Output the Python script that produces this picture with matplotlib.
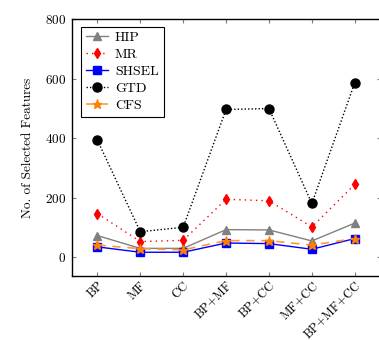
import matplotlib
matplotlib.use("Agg")
import matplotlib.pyplot as plt

plt.rcParams['font.family'] = ['cmr10', 'DejaVu Serif']
plt.rcParams['axes.formatter.use_mathtext'] = True

categories = ["BP", "MF", "CC", "BP+MF", "BP+CC", "MF+CC", "BP+MF+CC"]
hip = [72, 29, 29, 92, 91, 54, 114]
mr = [146, 52, 56, 194, 189, 101, 244]
shsel = [34, 16, 16, 47, 45, 26, 62]
gtd = [393, 85, 100, 496, 499, 180, 586]
cfs = [40, 28, 24, 55, 55, 40, 62]
y_ticks = [0, 200, 400, 600, 800]

fig = plt.figure(figsize=(3.79, 3.40), dpi=100)
ax = fig.add_axes([0.189, 0.189, 0.815, 0.755])

x = list(range(len(categories)))
ax.plot(x, hip, color='gray', linestyle='-', marker='^', markersize=5.5, linewidth=1.0, label='HIP')
ax.plot(x, mr, color='red', linestyle=(0, (1, 3)), marker='d', markersize=5.5, linewidth=1.0, label='MR')
ax.plot(x, shsel, color='blue', linestyle='-', marker='s', markersize=5.5, linewidth=1.0, label='SHSEL')
ax.plot(x, gtd, color='black', linestyle=(0, (1, 1.5)), marker='o', markersize=6.5, linewidth=1.0, label='GTD')
ax.plot(x, cfs, color='#ff9933', linestyle=(0, (5, 4)), marker='*', markersize=6.5,
        markerfacecolor='#ff8000', markeredgecolor='#ff8000', linewidth=1.2, label='CFS')

ax.set_xlim(-0.6, 6.6)
ax.set_ylim(-63, 800)
ax.set_xticks(x)
ax.set_xticklabels(categories, rotation=45, ha='right', va='top', rotation_mode='anchor', fontsize=9)
ax.set_yticks(y_ticks)
ax.tick_params(axis='y', labelsize=9.5)
ax.tick_params(axis='both', direction='in', length=3, color='gray',
               top=True, right=True, pad=4)
ax.tick_params(axis='x', pad=2.5)
for s in ax.spines.values():
    s.set_linewidth(1.0)

ax.set_ylabel("No. of Selected Features", fontsize=9.5, labelpad=8)

leg = ax.legend(loc='upper left', bbox_to_anchor=(0.03, 0.97), fontsize=10, fancybox=False,
                framealpha=1, edgecolor='black', handlelength=1.6, borderpad=0.35,
                labelspacing=0.3, handletextpad=0.5, borderaxespad=0)
leg.get_frame().set_linewidth(0.8)

plt.savefig("out.png", dpi=100)
